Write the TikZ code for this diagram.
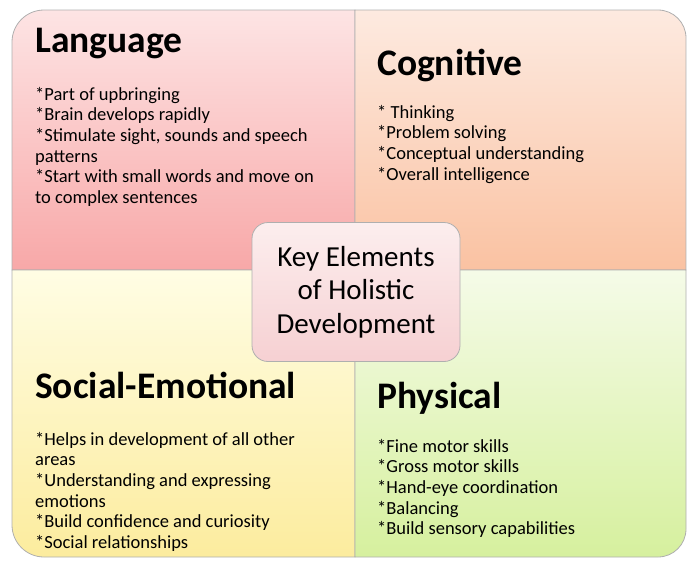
\documentclass[tikz,border=0pt]{standalone}
\usepackage{fontspec}
\setmainfont{Carlito}
\usepackage{tikz}

\definecolor{langtop}{RGB}{253,228,228}
\definecolor{langbot}{RGB}{248,168,168}
\definecolor{cogtop}{RGB}{253,234,224}
\definecolor{cogbot}{RGB}{250,194,162}
\definecolor{soctop}{RGB}{255,253,228}
\definecolor{socbot}{RGB}{252,236,158}
\definecolor{phystop}{RGB}{245,251,232}
\definecolor{physbot}{RGB}{214,240,158}
\definecolor{keytop}{RGB}{252,238,238}
\definecolor{keybot}{RGB}{246,208,210}
\definecolor{edge}{RGB}{175,175,175}

\begin{document}
\begin{tikzpicture}[x=1pt, y=-1pt,
    quad/.style={draw=edge, line width=0.8pt},
    heading/.style={anchor=base west, inner sep=0pt, font=\fontsize{37.5}{40}\selectfont\bfseries},
    items/.style={anchor=north west, inner sep=0pt, align=left, font=\fontsize{18.5}{20.6}\selectfont},
    keybox/.style={draw=edge, line width=0.8pt, rounded corners=16pt, top color=keytop, bottom color=keybot,
        minimum width=208pt, minimum height=139pt, align=center, font=\fontsize{29}{33.5}\selectfont}]
    \useasboundingbox (0,0) rectangle (688,562);

    % Quadrants
    \path[quad, top color=langtop, bottom color=langbot]
        (12,270) -- (12,42) arc[start angle=180, end angle=270, radius=32] -- (355,10) -- (355,270) -- cycle;
    \path[quad, top color=cogtop, bottom color=cogbot]
        (355,270) -- (355,10) -- (658,10) arc[start angle=270, end angle=360, radius=28] -- (686,270) -- cycle;
    \path[quad, top color=soctop, bottom color=socbot]
        (355,270) -- (355,557) -- (44,557) arc[start angle=90, end angle=180, radius=32] -- (12,270) -- cycle;
    \path[quad, top color=phystop, bottom color=physbot]
        (355,270) -- (686,270) -- (686,529) arc[start angle=0, end angle=90, radius=28] -- (355,557) -- cycle;

    % Headings
    \node[heading] (LANG) at (35,52) {Language};
    \node[heading] (COG) at (377,75) {Cognitive};
    \node[heading] (SOC) at (35,398) {Social-Emotional};
    \node[heading] (PHYS) at (377,408) {Physical};

    % Bullet lists (top edge about 13pt above first baseline)
    \node[items] (LANGlist) at (35,87) {*Part of upbringing\\*Brain develops rapidly\\*Stimulate sight, sounds and speech\\patterns\\*Start with small words and move on\\to complex sentences};
    \node[items] (COGlist) at (377,105) {* Thinking\\*Problem solving\\*Conceptual understanding\\*Overall intelligence};
    \node[items] (SOClist) at (35,432) {*Helps in development of all other\\areas\\*Understanding and expressing\\emotions\\*Build confidence and curiosity\\*Social relationships};
    \node[items] (PHYSlist) at (377,439) {*Fine motor skills\\*Gross motor skills\\*Hand-eye coordination\\*Balancing\\*Build sensory capabilities};

    % Centre box
    \node[keybox] (KEY) at (356,292) {Key Elements\\of Holistic\\Development};
\end{tikzpicture}
\end{document}
